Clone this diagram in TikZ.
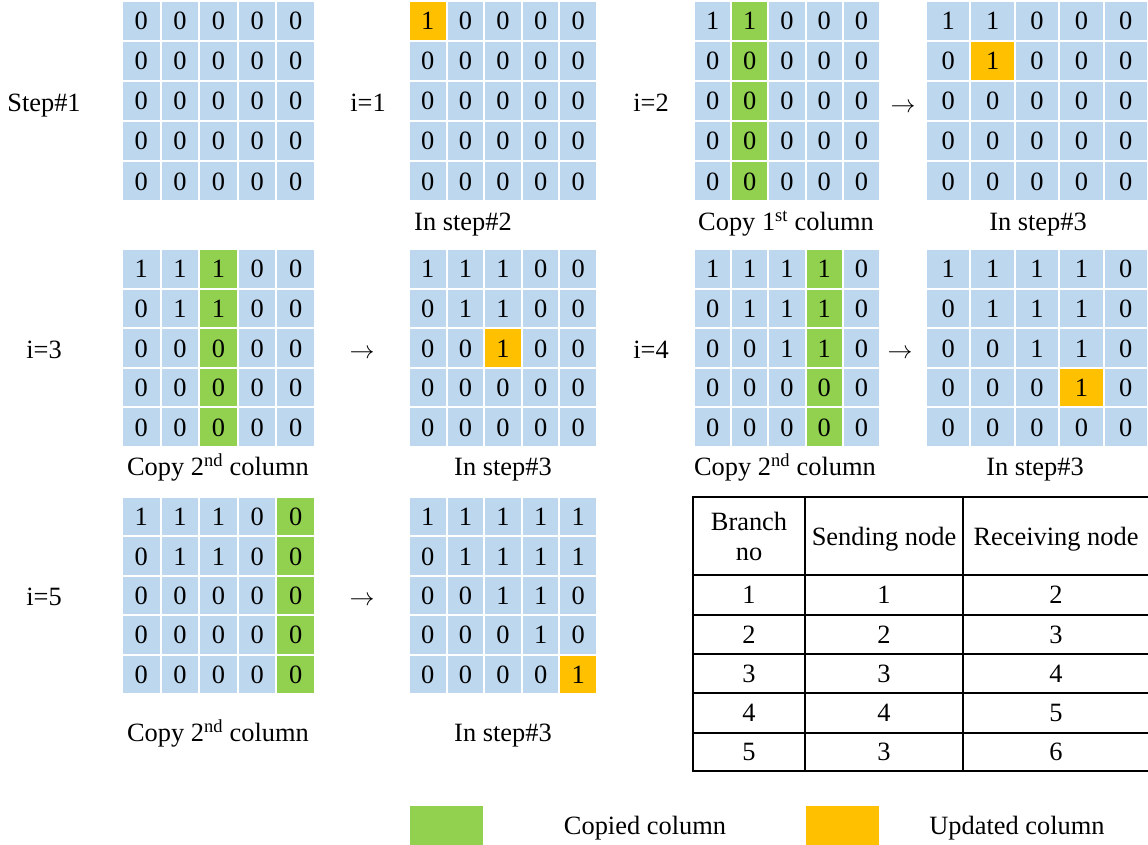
\documentclass[tikz,border=0pt]{standalone}
\usepackage{fontspec}
\setmainfont{Liberation Serif}
\definecolor{cb}{HTML}{BDD7EE}
\definecolor{cg}{HTML}{92D050}
\definecolor{co}{HTML}{FFC000}
\newcommand\fsz{\fontsize{26.4}{30}\selectfont}
\newcommand\mgrid[9]{%
  \pgfmathsetmacro\gcw{(#3-#2-8)/5}%
  \pgfmathsetmacro\gch{(#5-#4-8)/5}%
  \foreach \rw [count=\i] in {#9} {%
    \foreach \v [count=\j] in \rw {%
      \def\gcc{cb}%
      \ifnum\j=#6 \def\gcc{cg}\fi
      \ifnum\i=#7 \ifnum\j=#8 \def\gcc{co}\fi\fi
      \pgfmathsetmacro\gcx{#2+(\j-1)*(\gcw+2)+\gcw/2}%
      \pgfmathsetmacro\gcy{#4+(\i-1)*(\gch+2)+\gch/2}%
      \node[cell,fill=\gcc,minimum width=\gcw pt,minimum height=\gch pt] (#1-\i-\j) at (\gcx,\gcy) {\v};
    }%
  }%
}
\tikzset{
  every node/.style={font=\fsz},
  cell/.style={inner sep=0pt,text height=18pt,text depth=0pt},
  lbl/.style={inner sep=0pt,text height=17.5pt,text depth=0pt},
  tline/.style={line width=2pt,black},
}
\begin{document}
\begin{tikzpicture}[x=1pt,y=-1pt]
\useasboundingbox (0,0) rectangle (1148,845);
% Row 1
\mgrid{ga}{123}{314}{2}{200}{0}{0}{0}{{0,0,0,0,0},{0,0,0,0,0},{0,0,0,0,0},{0,0,0,0,0},{0,0,0,0,0}}
\mgrid{gb}{410}{596}{2}{200}{0}{1}{1}{{1,0,0,0,0},{0,0,0,0,0},{0,0,0,0,0},{0,0,0,0,0},{0,0,0,0,0}}
\mgrid{gc}{695}{879}{2}{200}{2}{0}{0}{{1,1,0,0,0},{0,0,0,0,0},{0,0,0,0,0},{0,0,0,0,0},{0,0,0,0,0}}
\mgrid{gd}{927}{1147}{2}{200}{0}{2}{2}{{1,1,0,0,0},{0,1,0,0,0},{0,0,0,0,0},{0,0,0,0,0},{0,0,0,0,0}}
% Row 2
\mgrid{ge}{123}{314}{250}{446}{3}{0}{0}{{1,1,1,0,0},{0,1,1,0,0},{0,0,0,0,0},{0,0,0,0,0},{0,0,0,0,0}}
\mgrid{gf}{410}{596}{250}{446}{0}{3}{3}{{1,1,1,0,0},{0,1,1,0,0},{0,0,1,0,0},{0,0,0,0,0},{0,0,0,0,0}}
\mgrid{gg}{695}{879}{250}{446}{4}{0}{0}{{1,1,1,1,0},{0,1,1,1,0},{0,0,1,1,0},{0,0,0,0,0},{0,0,0,0,0}}
\mgrid{gh}{927}{1147}{250}{446}{0}{4}{4}{{1,1,1,1,0},{0,1,1,1,0},{0,0,1,1,0},{0,0,0,1,0},{0,0,0,0,0}}
% Row 3
\mgrid{gi}{123}{314}{498}{693}{5}{0}{0}{{1,1,1,0,0},{0,1,1,0,0},{0,0,0,0,0},{0,0,0,0,0},{0,0,0,0,0}}
\mgrid{gj}{410}{596}{498}{693}{0}{5}{5}{{1,1,1,1,1},{0,1,1,1,1},{0,0,1,1,0},{0,0,0,1,0},{0,0,0,0,1}}
% Side labels and arrows
\node[lbl] (l1) at (44,103) {Step\#1};
\node[lbl] (l2) at (368,103) {i=1};
\node[lbl] (l3) at (651,103) {i=2};
\node[lbl] (a1) at (903,104) {$\rightarrow$};
\node[lbl] (l4) at (44,350) {i=3};
\node[lbl] (a2) at (362,350) {$\rightarrow$};
\node[lbl] (l5) at (651,350) {i=4};
\node[lbl] (a3) at (900,350) {$\rightarrow$};
\node[lbl] (l6) at (44,597) {i=5};
\node[lbl] (a4) at (362,597) {$\rightarrow$};
% Captions
\node[lbl] (c1) at (463,222) {In step\#2};
\node[lbl] (c2) at (786,222) {Copy 1\textsuperscript{st} column};
\node[lbl] (c3) at (1038,222) {In step\#3};
\node[lbl] (c4) at (218,467) {Copy 2\textsuperscript{nd} column};
\node[lbl] (c5) at (503,467) {In step\#3};
\node[lbl] (c6) at (785,467) {Copy 2\textsuperscript{nd} column};
\node[lbl] (c7) at (1035,467) {In step\#3};
\node[lbl] (c8) at (218,733) {Copy 2\textsuperscript{nd} column};
\node[lbl] (c9) at (503,733) {In step\#3};
% Table
\draw[tline] (693,497) rectangle (1151,771);
\foreach \yy in {575,615,654,693,733} \draw[tline] (693,\yy) -- (1151,\yy);
\foreach \xx in {805,963} \draw[tline] (\xx,497) -- (\xx,771);
\node[align=center,inner sep=0pt] (t-0-1) at (749,536) {Branch\\no};
\node[lbl] (t-0-2) at (884,537) {Sending node};
\node[lbl] (t-0-3) at (1056,537) {Receiving node};
\foreach \a/\b/\c/\yy [count=\k] in {1/1/2/595,2/2/3/634.5,3/3/4/673.5,4/4/5/713,5/3/6/752} {
  \node[lbl] (t-\k-1) at (749,\yy) {\a};
  \node[lbl] (t-\k-2) at (884,\yy) {\b};
  \node[lbl] (t-\k-3) at (1056,\yy) {\c};
}
% Legend
\fill[cg] (410,806) rectangle (483,845);
\node[lbl] (lg1) at (645,826) {Copied column};
\fill[co] (806,806) rectangle (879,845);
\node[lbl] (lg2) at (1017,826) {Updated column};
\end{tikzpicture}
\end{document}
